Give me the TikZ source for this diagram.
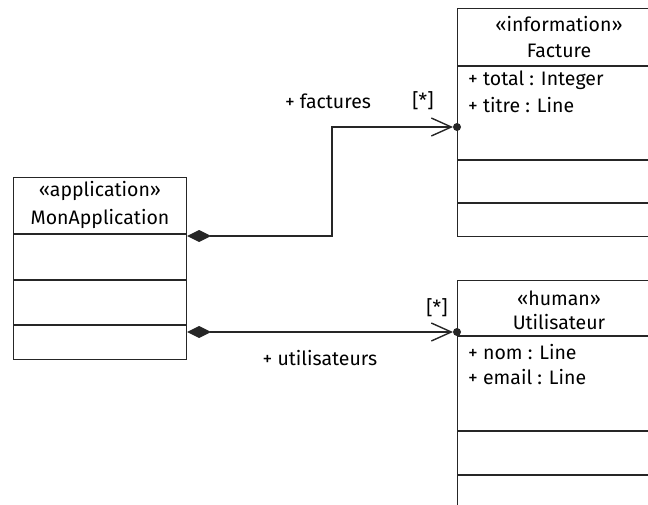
\documentclass[tikz,border=0pt]{standalone}
\usepackage{fontspec}
\setmainfont{Fira Sans}
\usetikzlibrary{arrows.meta,positioning}

\tikzset{
  classbox/.style={draw=black!85, line width=1.1pt, anchor=north west, inner sep=0pt},
  sepline/.style={draw=black!85, line width=1.1pt},
  title/.style={inner sep=0pt, font=\fontsize{19.5}{23}\selectfont},
  attr/.style={inner sep=0pt, anchor=west, font=\fontsize{19.5}{23}\selectfont},
  role/.style={inner sep=0pt, font=\fontsize{19.5}{23}\selectfont},
  comp/.style={draw=black!85, line width=1.4pt, shorten >=4pt,
    {Diamond[length=24pt,width=12pt]}-{Straight Barb[length=20pt,width=18pt,line width=1.4pt]}},
}

\begin{document}
\begin{tikzpicture}[x=1pt, y=-1pt]
    \useasboundingbox (0,0) rectangle (648,504);
    \clip (0,0) rectangle (648,504);

    % classes
    \node[classbox, minimum width=173pt, minimum height=182pt] (app) at (13,177) {};
    \foreach \yy in {234,280,325}{
      \draw[sepline] (app.west |- 0,\yy) -- (app.east |- 0,\yy);
    }
    \node[title] (app-st) at (100,191) {«application»};
    \node[title] (app-name) at (100,219) {MonApplication};

    \node[classbox, minimum width=204pt, minimum height=228pt] (fact) at (457,8) {};
    \foreach \yy in {66,160,203}{
      \draw[sepline] (fact.west |- 0,\yy) -- (fact.east |- 0,\yy);
    }
    \node[title] (fact-st) at (559,24) {«information»};
    \node[title] (fact-name) at (559,51) {Facture};
    \node[attr] (fact-a1) at (468,80) {+ total : Integer};
    \node[attr] (fact-a2) at (468,105) {+ titre : Line};

    \node[classbox, minimum width=204pt, minimum height=240pt] (user) at (457,280) {};
    \foreach \yy in {336,431,475}{
      \draw[sepline] (user.west |- 0,\yy) -- (user.east |- 0,\yy);
    }
    \node[title] (user-st) at (559,298) {«human»};
    \node[title] (user-name) at (559,322) {Utilisateur};
    \node[attr] (user-a1) at (468,352) {+ nom : Line};
    \node[attr] (user-a2) at (468,377) {+ email : Line};

    % associations
    \coordinate (fact-in) at (fact.west |- 0,127);
    \coordinate (user-in) at (user.west |- 0,332);
    \draw[comp] (app.east |- 0,236) -- (332,236) |- (fact-in);
    \fill[black!85] (fact-in) circle (4pt);
    \draw[comp] (app.east |- 0,332) -- (user-in);
    \fill[black!85] (user-in) circle (4pt);

    \node[role] (fact-role) at (328,101) {+ factures};
    \node[role] (fact-mult) at (423,101) {[*]};
    \node[role] (user-role) at (320,358) {+ utilisateurs};
    \node[role] (user-mult) at (437,308) {[*]};
\end{tikzpicture}
\end{document}
